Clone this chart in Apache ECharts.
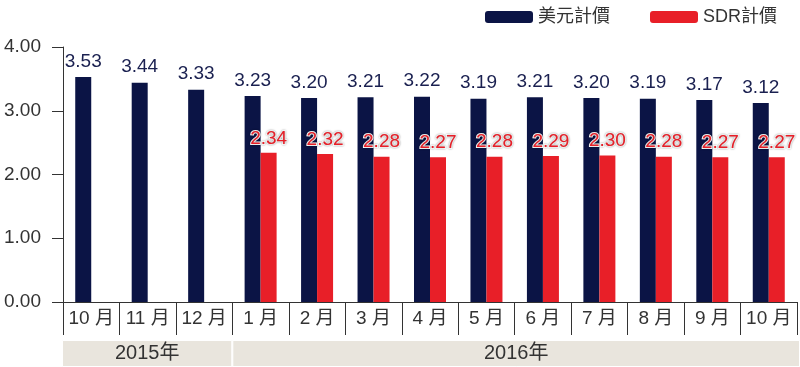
<!DOCTYPE html>
<html><head><meta charset="utf-8">
<script src="https://cdn.jsdelivr.net/npm/echarts@6/dist/echarts.min.js"></script>
<style>html,body{margin:0;padding:0;background:#fff}#c{width:800px;height:367px}</style>
</head><body><div id="c"></div>
<script>
const categories = ['10 月','11 月','12 月','1 月','2 月','3 月','4 月','5 月','6 月','7 月','8 月','9 月','10 月'];
const usdValues = [3.53,3.44,3.33,3.23,3.20,3.21,3.22,3.19,3.21,3.20,3.19,3.17,3.12];
const sdrValues = [null,null,null,2.34,2.32,2.28,2.27,2.28,2.29,2.30,2.28,2.27,2.27];
const seriesNames = ['美元計價','SDR計價'];
const yearNames = ['2015年','2016年'];
const yearMonths = [3,10];
const yTicks = [0,1,2,3,4];

const FONT = '"Liberation Sans","Noto Sans CJK TC",Arial,sans-serif';
const NAVY = '#0b1445', RED = '#e81f28', AXIS = '#333';

const chart = echarts.init(document.getElementById('c'));
chart.setOption({
  animation:false,
  textStyle:{fontFamily:FONT},
  legend:{
    top:3,right:18,itemWidth:48,itemHeight:12,itemGap:40,
    textStyle:{fontSize:18,color:'#333',fontFamily:FONT},
    data:seriesNames
  },
  grid:[
    {left:63,right:3,top:47,bottom:65},
    {left:62,right:0,top:340,height:27}
  ],
  xAxis:[
    {type:'category',gridIndex:0,data:categories,
     axisLine:{lineStyle:{color:AXIS,width:1}},
     axisTick:{show:true,interval:0,length:33,lineStyle:{color:AXIS}},
     axisLabel:{color:'#333',fontSize:19,margin:7,interval:0,fontFamily:FONT}},
    {type:'value',gridIndex:1,min:0,max:yearMonths.reduce((a,b)=>a+b,0),show:false}
  ],
  yAxis:[
    {type:'value',gridIndex:0,min:yTicks[0],max:yTicks[yTicks.length-1],interval:1,
     axisLine:{show:true,lineStyle:{color:AXIS}},
     axisTick:{show:true,length:11,lineStyle:{color:AXIS}},
     splitLine:{show:false},
     axisLabel:{color:'#333',fontSize:19,margin:22,formatter:v=>v.toFixed(2),fontFamily:FONT}},
    {type:'category',gridIndex:1,data:['y'],show:false}
  ],
  series:[
    {name:seriesNames[0],type:'bar',xAxisIndex:0,yAxisIndex:0,data:usdValues,
     barWidth:16,barGap:'0%',itemStyle:{color:NAVY},
     label:{show:true,position:'top',distance:6,color:'#1a2050',fontSize:19,
       formatter:p=>p.value.toFixed(2),fontFamily:FONT}},
    {name:seriesNames[1],type:'bar',xAxisIndex:0,yAxisIndex:0,data:sdrValues,
     barWidth:16,barGap:'0%',itemStyle:{color:RED},
     label:{show:true,position:'top',distance:5,color:RED,fontSize:19,
       textBorderColor:'#fff',textBorderWidth:2,
       textShadowColor:'rgba(0,0,0,0.35)',textShadowBlur:2,
       formatter:p=>p.value==null?'':p.value.toFixed(2),fontFamily:FONT}},
    ...yearNames.map((n,i)=>({
      type:'bar',xAxisIndex:1,yAxisIndex:1,stack:'yr',barWidth:'100%',
      data:[yearMonths[i]],silent:true,
      itemStyle:{color:'#e9e5dd',borderColor:'#fff',borderWidth:1},
      label:{show:true,position:'inside',formatter:n,color:'#333',fontSize:20,fontFamily:FONT}
    }))
  ]
});
</script></body></html>
